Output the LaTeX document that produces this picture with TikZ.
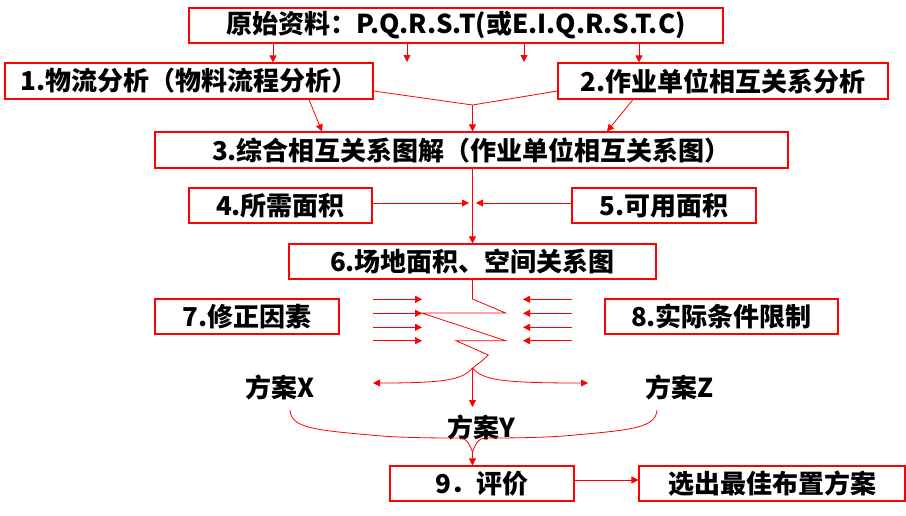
\documentclass[tikz,border=0pt]{standalone}
\usepackage{fontspec}
\newfontfamily\cjk{Noto Sans CJK SC}
\usetikzlibrary{arrows.meta}
\definecolor{lred}{RGB}{255,0,0}
\tikzset{
  txt/.style={inner sep=0pt, text=black, font={\cjk\bfseries\fontsize{26}{30}\selectfont}},
  box/.style={txt, draw=lred, line width=1.1pt, minimum height=35pt},
  conn/.style={draw=lred, line width=0.8pt},
  arr/.style={conn, -{Triangle[length=7pt,width=7pt]}},
}
\begin{document}
\begin{tikzpicture}[x=1pt,y=-1pt]
\useasboundingbox (0,0) rectangle (906,515);
% boxes
\node[box, minimum width=534pt] (top) at (456,25.5) {原始资料：P.Q.R.S.T(或E.I.Q.R.S.T.C)};
\node[box, minimum width=368pt, minimum height=36pt] (b1) at (189,81) {1.物流分析（物料流程分析）};
\node[box, minimum width=330pt, minimum height=36pt] (b2) at (723,81) {2.作业单位相互关系分析};
\node[box, minimum width=633pt, minimum height=36pt] (b3) at (471.5,150) {3.综合相互关系图解（作业单位相互关系图）};
\node[box, minimum width=183pt] (b4) at (280.5,205.5) {4.所需面积};
\node[box, minimum width=184pt] (b5) at (664,205.5) {5.可用面积};
\node[box, minimum width=367pt] (b6) at (472.5,261.5) {6.场地面积、空间关系图};
\node[box, minimum width=184pt] (b7) at (247,316.5) {7.修正因素};
\node[box, minimum width=233pt] (b8) at (721.5,316.5) {8.实际条件限制};
\node[box, minimum width=184pt] (b9) at (482,483.5) {9．评价};
\node[box, minimum width=266pt] (b10) at (772,483.5) {选出最佳布置方案};
% plain labels
\node[txt] (px) at (280.5,387.5) {方案X};
\node[txt] (pz) at (679.5,387.5) {方案Z};
\node[txt] (py) at (481,427.5) {方案Y};
% coordinates
\coordinate (a1) at (273,0);
\coordinate (a4) at (639,0);
\coordinate (e2) at (407,62);
\coordinate (e3) at (524,62);
\coordinate (mx) at (472.5,0);
\coordinate (yl) at (0,91);
\coordinate (j1) at (472.5,105);
\coordinate (s1) at (309,0);
\coordinate (t1) at (322,0);
\coordinate (s2) at (633,0);
\coordinate (t2) at (607,0);
\coordinate (y4) at (0,203);
\coordinate (t4) at (469,203);
\coordinate (t5) at (476,203);
\coordinate (j2) at (472.5,368);
\coordinate (xl) at (373,383);
\coordinate (xr) at (588,383);
\coordinate (ye) at (472.5,407);
\coordinate (bl) at (290,410);
\coordinate (br) at (657,410);
\coordinate (bt) at (472.5,452);
\coordinate (y9) at (0,480);
% top arrows
\draw[arr] (top.south -| a1) -- (b1.north -| a1);
\draw[arr] (top.south -| e2) -- (e2);
\draw[arr] (top.south -| e3) -- (e3);
\draw[arr] (top.south -| a4) -- (b2.north -| a4);
% merge to b3
\draw[conn] (b1.east |- yl) -- (j1) -- (b2.west |- yl);
\draw[arr] (j1) -- (b3.north -| j1);
\draw[arr] (b1.south -| s1) -- (b3.north -| t1);
\draw[arr] (b2.south -| s2) -- (b3.north -| t2);
% b3 -> b6
\draw[arr] (b3.south -| mx) -- (b6.north -| mx);
\draw[arr] (b4.east |- y4) -- (t4);
\draw[arr] (b5.west |- y4) -- (t5);
% zigzag
\draw[conn, line join=miter] (b6.south -| mx) -- (472.5,299) -- (505.7,313) -- (421.7,313)
  -- (505.7,340.7) -- (456,340.7) -- (488.3,355) .. controls (482,361) .. (j2);
\foreach \yy in {299.3,313.3,327.3,340.7}{
  \draw[arr] (373,\yy) -- (422,\yy);
  \draw[arr] (572,\yy) -- (523,\yy);
}
% split to alternatives
\draw[arr] (j2) .. controls (462,380) and (445,383) .. (xl);
\draw[arr] (j2) .. controls (483,380) and (500,383) .. (xr);
\draw[arr] (j2) -- (ye);
% brace
\draw[conn] (bl) .. controls (291,428) and (315,430) .. (370,435)
  .. controls (400,438) and (440,438) .. (460,438)
  .. controls (467,438) and (470,445) .. (bt)
  .. controls (475,445) and (478,438) .. (485,438)
  .. controls (505,438) and (545,438) .. (575,435)
  .. controls (630,430) and (656,428) .. (br);
\draw[arr] (bt) -- (b9.north -| bt);
\draw[arr] (b9.east |- y9) -- (b10.west |- y9);
\end{tikzpicture}
\end{document}
